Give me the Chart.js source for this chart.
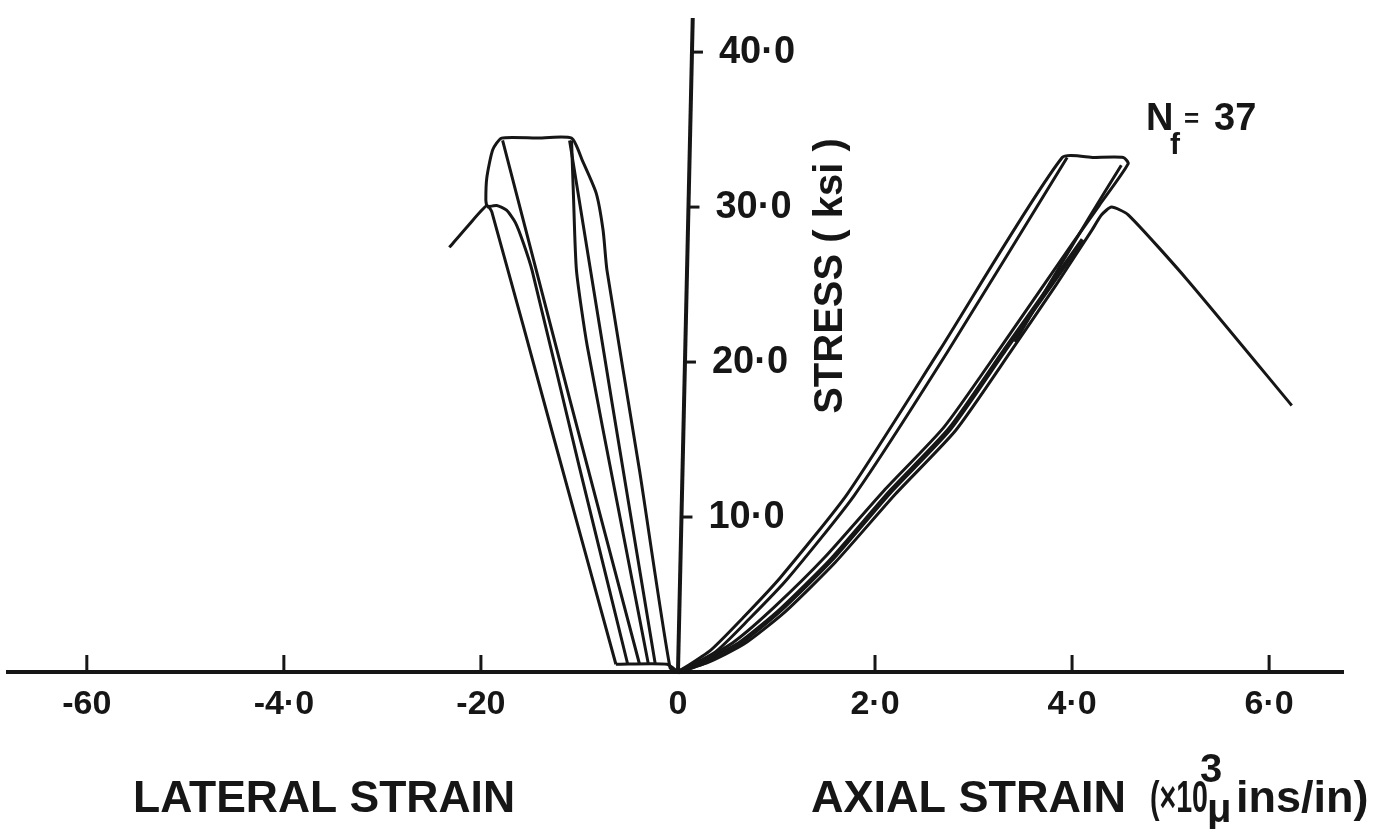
<!DOCTYPE html>
<html>
<head>
<meta charset="utf-8">
<script src="https://cdn.jsdelivr.net/npm/chart.js@4.4.1/dist/chart.umd.min.js"></script>
<style>
  html, body { margin: 0; padding: 0; background: #fff; }
  #chart { display: block; }
</style>
</head>
<body>
<canvas id="chart" width="1389" height="829"></canvas>
<script>
// axis ticks
const xTickValues = [-6, -4, -2, 0, 2, 4, 6];
const xTickLabels = ["-60", "-4·0", "-20", "0", "2·0", "4·0", "6·0"];
const yTickValues = [10, 20, 30, 40];
const yTickLabels = ["10·0", "20·0", "30·0", "40·0"];

// lateral strain (x10^3), stress (ksi)
const latFailStrain = [-0.63, -1.26, -1.89, -1.94, -2.13, -2.32];
const latFailStress = [0.5, 15.1, 29.7, 30.1, 28.8, 27.4];

const latTopStrain = [-1.94, -1.95, -1.94, -1.88, -1.79, -1.44, -1.08, -0.97, -0.83, -0.76, -0.72, -0.39, -0.08, 0];
const latTopStress = [30.0, 30.45, 31.9, 33.7, 34.45, 34.45, 34.45, 33.0, 30.9, 28.5, 25.9, 13.0, 0.26, 0];

const latRoundStrain = [-1.94, -1.84, -1.74, -1.65, -1.57, -1.48, -1.0, -0.51];
const latRoundStress = [30.0, 30.1, 29.8, 29.0, 27.7, 25.9, 13.2, 0.5];

const latCornerStrain = [-1.78, -1.09, -0.39];
const latCornerStress = [34.3, 17.4, 0.5];

const latStraightStrain = [-1.10, -0.67, -0.23];
const latStraightStress = [34.3, 17.4, 0.5];

const latUnloadStrain = [-1.08, -1.06, -1.03, -0.92, -0.61, -0.30];
const latUnloadStress = [34.3, 30.6, 25.9, 21.0, 10.7, 0.5];

const latBaseStrain = [-0.63, -0.11, 0];
const latBaseStress = [0.5, 0.5, 0];

// axial strain (x10^3), stress (ksi)
const axLoopStrain = [0, 0.33, 0.66, 1.04, 1.72, 2.66, 3.90, 4.22, 4.52, 4.57, 4.275, 4.01, 3.27, 2.70, 2.09, 1.49, 0.98, 0.58, 0.24, 0];
const axLoopStress = [0, 1.4, 3.5, 6.1, 11.5, 20.8, 33.2, 33.2, 33.2, 32.8, 30.1, 27.7, 20.9, 15.8, 11.7, 7.4, 4.2, 2.0, 0.7, 0];

const axSecondStrain = [0, 0.38, 0.72, 1.11, 1.79, 2.73, 3.95];
const axSecondStress = [0, 1.3, 3.4, 6.0, 11.4, 20.6, 33.2];

const axLoadStrain = [0, 0.274, 0.63, 1.04, 1.55, 2.15, 2.76, 3.32, 4.11];
const axLoadStress = [0, 0.65, 1.87, 4.0, 7.2, 11.6, 15.7, 20.8, 27.9];

const axInnerStrain = [4.50, 4.17, 3.86, 3.42];
const axInnerStress = [32.7, 29.3, 26.0, 21.3];

const axFailStrain = [0, 0.30, 0.67, 1.09, 1.60, 2.21, 2.82, 3.38, 3.84, 4.20, 4.30, 4.40, 4.57, 5.17, 6.23];
const axFailStress = [0, 0.6, 1.8, 3.9, 7.1, 11.5, 15.6, 20.7, 25.0, 28.5, 29.5, 30.0, 29.5, 25.3, 17.2];

const ink = "#161616";
const fam = "'Liberation Sans', Arial, sans-serif";
const yAxisLean = 0.15;

const toPoints = (xs, ys) => xs.map((v, i) => ({ x: v, y: ys[i] }));

function curve(xs, ys, width) {
  return {
    data: toPoints(xs, ys),
    borderColor: ink,
    borderWidth: width || 3,
    pointRadius: 0,
    tension: 0.2,
    fill: false,
    clip: 10,
  };
}

const paperText = {
  id: "paperText",
  afterDraw(chart) {
    const { ctx, scales: { x, y } } = chart;
    const x0 = x.getPixelForValue(0);
    const yBottom = y.getPixelForValue(0);
    const yTop = y.getPixelForValue(y.max);
    const xTop = x.getPixelForValue(yAxisLean);
    const axisX = (py) => x0 + (xTop - x0) * (yBottom - py) / (yBottom - yTop);

    ctx.save();
    ctx.strokeStyle = ink;
    ctx.fillStyle = ink;

    // stress axis
    ctx.lineWidth = 4;
    ctx.beginPath();
    ctx.moveTo(x0, yBottom);
    ctx.lineTo(xTop, yTop);
    ctx.stroke();

    ctx.lineWidth = 3;
    ctx.font = `bold 38px ${fam}`;
    ctx.textAlign = "left";
    ctx.textBaseline = "middle";
    yTickValues.forEach((v, i) => {
      const py = y.getPixelForValue(v);
      const px = axisX(py);
      ctx.beginPath();
      ctx.moveTo(px, py);
      ctx.lineTo(px + 11, py);
      ctx.stroke();
      ctx.fillText(yTickLabels[i], px + 27, py);
    });

    // strain ticks point up
    xTickValues.forEach((v) => {
      if (v === 0) return;
      const px = x.getPixelForValue(v);
      ctx.beginPath();
      ctx.moveTo(px, yBottom);
      ctx.lineTo(px, yBottom - 17);
      ctx.stroke();
    });

    // titles
    ctx.textBaseline = "alphabetic";
    ctx.font = `bold 45px ${fam}`;
    ctx.fillText("LATERAL STRAIN", 133, 812, 382);
    ctx.fillText("AXIAL STRAIN", 811, 812, 330);
    ctx.fillText("(×10", 1150, 812, 58);
    ctx.fillText("ins/in)", 1236, 812, 136);
    ctx.font = `bold 40px ${fam}`;
    ctx.fillText("3", 1200, 782);
    ctx.fillText("μ", 1207, 822, 26);

    // N_f = 37
    ctx.font = `bold 38px ${fam}`;
    ctx.fillText("N", 1146, 130);
    ctx.fillText("37", 1214, 130, 44);
    ctx.font = `bold 30px ${fam}`;
    ctx.fillText("f", 1170, 154);
    ctx.font = `bold 26px ${fam}`;
    ctx.fillText("=", 1184, 127);

    ctx.save();
    ctx.translate(831, 276);
    ctx.rotate(-Math.PI / 2);
    ctx.textAlign = "center";
    ctx.textBaseline = "middle";
    ctx.font = `bold 40px ${fam}`;
    ctx.fillText("STRESS ( ksi )", 0, 0, 285);
    ctx.restore();

    ctx.restore();
  },
};

new Chart(document.getElementById("chart"), {
  type: "line",
  data: {
    datasets: [
      curve(latFailStrain, latFailStress),
      curve(latTopStrain, latTopStress),
      curve(latRoundStrain, latRoundStress),
      curve(latCornerStrain, latCornerStress),
      curve(latStraightStrain, latStraightStress),
      curve(latUnloadStrain, latUnloadStress),
      curve(latBaseStrain, latBaseStress),
      curve(axLoopStrain, axLoopStress),
      curve(axSecondStrain, axSecondStress),
      curve(axLoadStrain, axLoadStress, 5),
      curve(axInnerStrain, axInnerStress),
      curve(axFailStrain, axFailStress),
    ],
  },
  options: {
    responsive: false,
    animation: false,
    events: [],
    layout: { padding: { left: 8, right: 46, top: 18, bottom: 0 } },
    plugins: { legend: { display: false }, tooltip: { enabled: false } },
    scales: {
      x: {
        type: "linear",
        min: -6.8,
        max: 6.75,
        afterBuildTicks: (s) => { s.ticks = xTickValues.map((v) => ({ value: v })); },
        afterFit: (s) => { s.height = 157; },
        ticks: {
          autoSkip: false,
          maxRotation: 0,
          padding: 12,
          color: ink,
          font: { family: fam, size: 34, weight: "bold" },
          callback: (v) => xTickLabels[xTickValues.indexOf(v)],
        },
        grid: { display: false, drawTicks: false },
        border: { display: true, color: ink, width: 4 },
      },
      y: {
        type: "linear",
        min: 0,
        max: 42.2,
        display: false,
      },
    },
  },
  plugins: [paperText],
});
</script>
</body>
</html>
